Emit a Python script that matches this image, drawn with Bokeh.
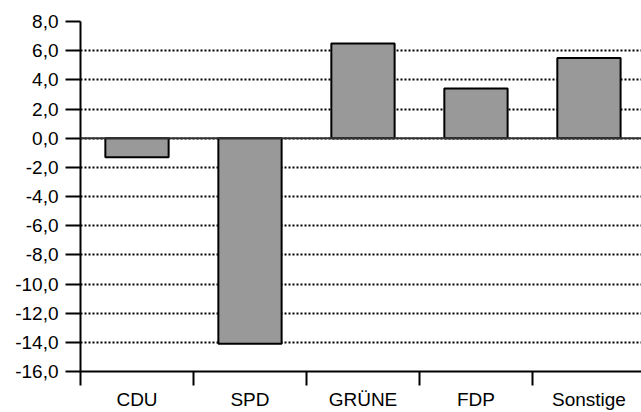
from bokeh.plotting import figure
from bokeh.models import Range1d, FixedTicker, CustomJSTickFormatter, Span, ColumnDataSource
from bokeh.embed import file_html
from bokeh.resources import INLINE

categories = ["CDU", "SPD", "GRÜNE", "FDP", "Sonstige"]
values = [-1.3, -14.1, 6.5, 3.4, 5.5]
y_ticks = [-16, -14, -12, -10, -8, -6, -4, -2, 0, 2, 4, 6, 8]

centers = [i + 0.5 for i in range(len(categories))]
bounds = [i for i in range(len(categories) + 1)]
src = ColumnDataSource(dict(x=centers, top=values, cat=categories))

FONT = "Liberation Sans"

p = figure(width=641, height=412, output_backend="svg", toolbar_location=None,
           x_range=Range1d(0, 4.965), y_range=Range1d(-16, 8),
           min_border_left=80, min_border_right=0, min_border_top=21, min_border_bottom=38)
p.outline_line_color = None
p.background_fill_color = "white"

p.vbar(x="x", top="top", bottom=0, width=0.56, source=src,
       fill_color="#999999", line_color="black", line_width=2)

p.add_layout(Span(location=0, dimension="width", line_color="#333333", line_width=2))

# x axis
xa = p.xaxis[0]
xa.ticker = FixedTicker(ticks=centers, minor_ticks=bounds)
xa.formatter = CustomJSTickFormatter(args=dict(cats=categories),
                                     code="return cats[Math.floor(tick)];")
xa.major_tick_out = 0
xa.major_tick_in = 0
xa.minor_tick_out = 14
xa.minor_tick_in = 0
xa.minor_tick_line_width = 2
xa.minor_tick_line_color = "black"
xa.axis_line_width = 2
xa.axis_line_color = "black"
xa.major_label_standoff = 3
xa.major_label_text_font = FONT
xa.major_label_text_font_size = "19px"
xa.major_label_text_color = "black"

# y axis
ya = p.yaxis[0]
ya.ticker = FixedTicker(ticks=y_ticks, minor_ticks=[])
ya.formatter = CustomJSTickFormatter(code="return tick.toFixed(1).replace('.', ',');")
ya.major_tick_out = 15
ya.major_tick_in = 0
ya.major_tick_line_width = 2
ya.major_tick_line_color = "black"
ya.axis_line_width = 2
ya.axis_line_color = "black"
ya.major_label_standoff = 7
ya.major_label_text_font = FONT
ya.major_label_text_font_size = "19px"
ya.major_label_text_color = "black"

p.xgrid.visible = False
p.ygrid.ticker = FixedTicker(ticks=[t for t in y_ticks if t > -16])
p.ygrid.grid_line_color = "black"
p.ygrid.grid_line_width = 2
p.ygrid.grid_line_dash = "2 2"

open("out.html", "w").write(file_html(p, INLINE))
